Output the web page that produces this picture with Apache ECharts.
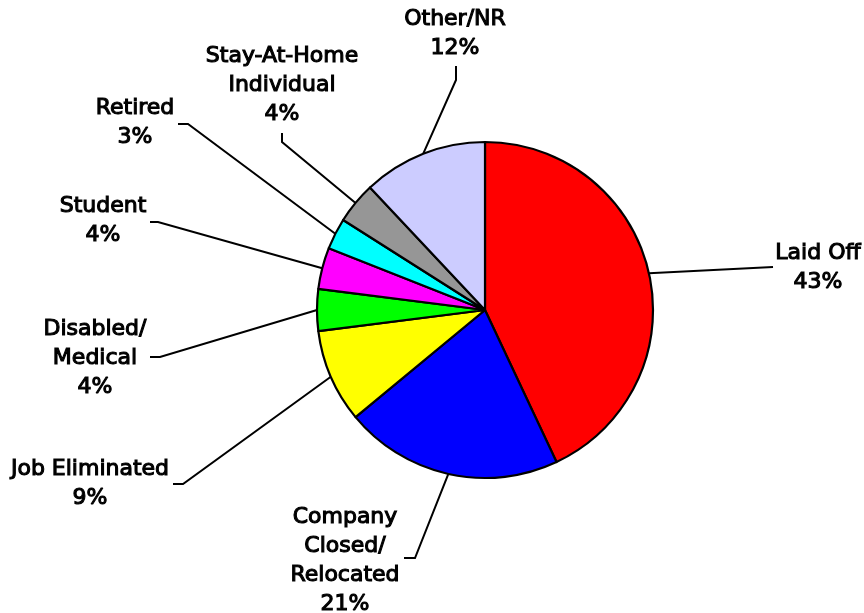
<!DOCTYPE html>
<html>
<head>
<meta charset="utf-8">
<script src="https://cdn.jsdelivr.net/npm/echarts@6/dist/echarts.min.js"></script>
<style>
  html, body { margin: 0; padding: 0; background: #fff; }
  #chart { width: 864px; height: 613px; }
</style>
</head>
<body>
<div id="chart"></div>
<script>
(function() {
  // slices, clockwise from 12 o'clock
  var categories = ['Laid Off', 'Company\nClosed/\nRelocated', 'Job Eliminated', 'Disabled/\nMedical',
    'Student', 'Retired', 'Stay-At-Home\nIndividual', 'Other/NR'];
  var percents = [43, 21, 9, 4, 4, 3, 4, 12];
  var colors = ['#ff0000', '#0000ff', '#ffff00', '#00ff00', '#ff00ff', '#00ffff', '#969696', '#ccccff'];

  // label centre + leader line bend/end points (layout only)
  var labelSpots = [
    { x: 818, y: 268, bend: [773, 267], end: [773, 267] },
    { x: 345, y: 561, bend: [415, 558], end: [404, 558] },
    { x: 90, y: 484, bend: [183, 484], end: [173, 484] },
    { x: 95, y: 358, bend: [160, 357], end: [150, 357] },
    { x: 103, y: 221, bend: [158, 222], end: [150, 222] },
    { x: 135, y: 123, bend: [188, 124], end: [178, 124] },
    { x: 282, y: 85, bend: [282, 142], end: [282, 133] },
    { x: 455, y: 34, bend: [456, 80], end: [456, 66] }
  ];

  var chart = echarts.init(document.getElementById('chart'), null, { renderer: 'canvas' });

  var data = categories.map(function(c, i) {
    return { name: c, value: percents[i], itemStyle: { color: colors[i] } };
  });

  chart.setOption({
    animation: false,
    series: [{
      type: 'pie',
      center: [485, 310],
      radius: 168,
      startAngle: 90,
      clockwise: true,
      data: data,
      itemStyle: { borderColor: '#000', borderWidth: 2.2 },
      label: {
        show: true,
        position: 'outside',
        formatter: function(p) { return p.name + '\n' + p.value + '%'; },
        color: '#000',
        fontFamily: 'DejaVu Sans',
        fontSize: 22,
        lineHeight: 29,
        align: 'center',
        textBorderColor: '#000',
        textBorderWidth: 1.1
      },
      labelLine: {
        show: true,
        length: 20,
        length2: 10,
        lineStyle: { color: '#000', width: 2 }
      },
      labelLayout: function(params) {
        var s = labelSpots[params.dataIndex];
        var p0 = params.labelLinePoints ? params.labelLinePoints[0] : s.bend;
        return {
          x: s.x,
          y: s.y,
          align: 'center',
          verticalAlign: 'middle',
          labelLinePoints: [p0, s.bend, s.end]
        };
      },
      emphasis: { disabled: true }
    }]
  });
})();
</script>
</body>
</html>
